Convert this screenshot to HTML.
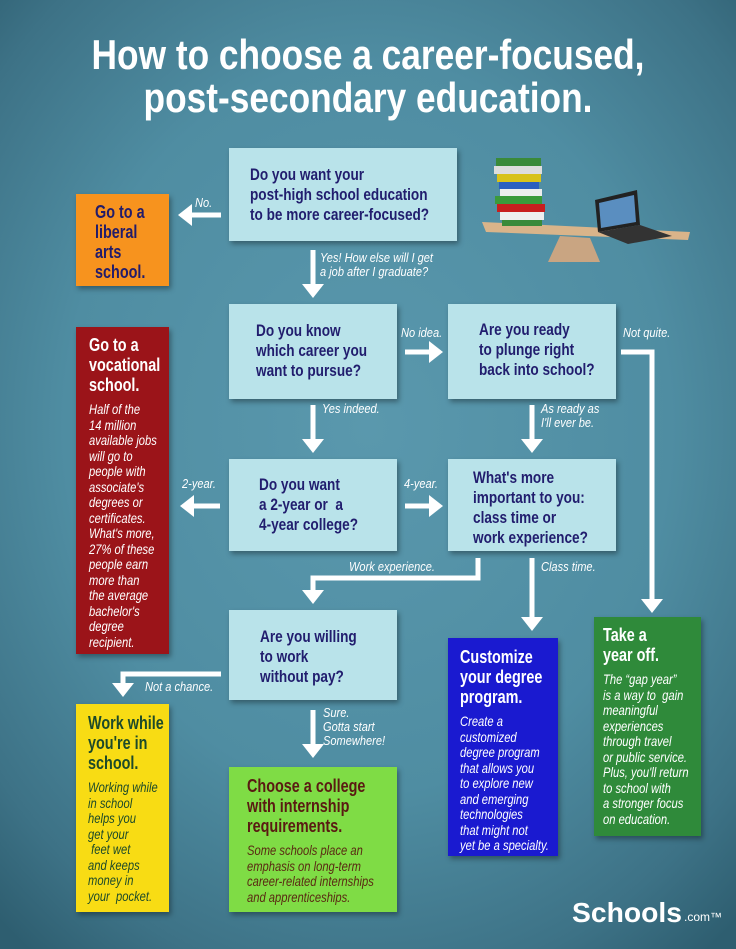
<!DOCTYPE html>
<html><head><meta charset="utf-8"><style>
*{margin:0;padding:0;box-sizing:border-box}
body{width:736px;height:949px;overflow:hidden;position:relative;font-family:"Liberation Sans",sans-serif;
background:radial-gradient(ellipse 75% 70% at 50% 45%,#5a98ad 0%,#4f8da2 55%,#3d7286 85%,#2e5e70 100%);}
.t{position:absolute;left:0;width:736px;text-align:center;color:#fff;font-weight:bold;font-size:42px;line-height:42px;transform:scaleX(.84);white-space:nowrap}
.b{position:absolute;box-shadow:2px 3px 5px rgba(0,0,0,.35)}
.c{transform:scaleX(.8);transform-origin:0 0;white-space:nowrap}
.q{background:#b9e3ea;color:#211d6e;font-weight:bold;font-size:17px;line-height:20px}
.h{font-weight:bold;font-size:18px;line-height:20px}
.s{font-style:italic;font-size:14px;line-height:15.5px}
.l{position:absolute;color:#fff;font-style:italic;font-size:13px;line-height:14px;transform:scaleX(.85);transform-origin:0 0;white-space:nowrap}
svg{position:absolute;left:0;top:0}
</style></head><body>
<div class="t" style="top:34px">How to choose a career-focused,</div>
<div class="t" style="top:77px">post-secondary education.</div>

<div class="b q" style="left:229px;top:148px;width:228px;height:93px;padding:17px 0 0 21px"><div class="c">Do you want your<br>post-high school education<br>to be more career-focused?</div></div>
<div class="b" style="left:76px;top:194px;width:93px;height:92px;background:#f7931e;color:#221c6b;padding:8px 0 0 19px"><div class="c h">Go to a<br>liberal<br>arts<br>school.</div></div>

<div class="b q" style="left:229px;top:304px;width:168px;height:95px;padding:17px 0 0 27px"><div class="c">Do you know<br>which career you<br>want to pursue?</div></div>
<div class="b q" style="left:448px;top:304px;width:168px;height:95px;padding:16px 0 0 31px"><div class="c">Are you ready<br>to plunge right<br>back into school?</div></div>

<div class="b" style="left:76px;top:327px;width:93px;height:327px;background:#9b1419;color:#fff;padding:8px 0 0 13px"><div class="c"><div class="h">Go to a<br>vocational<br>school.</div><div class="s" style="margin-top:7px">Half of the<br>14 million<br>available jobs<br>will go to<br>people with<br>associate's<br>degrees or<br>certificates.<br>What's more,<br>27% of these<br>people earn<br>more than<br>the average<br>bachelor's<br>degree<br>recipient.</div></div></div>

<div class="b q" style="left:229px;top:459px;width:168px;height:92px;padding:16px 0 0 30px"><div class="c">Do you want<br>a 2-year or &nbsp;a<br>4-year college?</div></div>
<div class="b q" style="left:448px;top:459px;width:168px;height:92px;padding:9px 0 0 25px"><div class="c">What's more<br>important to you:<br>class time or<br>work experience?</div></div>

<div class="b q" style="left:229px;top:610px;width:168px;height:90px;padding:17px 0 0 31px"><div class="c">Are you willing<br>to work<br>without pay?</div></div>

<div class="b" style="left:448px;top:638px;width:110px;height:218px;background:#1a1ad0;color:#fff;padding:9px 0 0 12px"><div class="c"><div class="h">Customize<br>your degree<br>program.</div><div class="s" style="margin-top:7px">Create a<br>customized<br>degree program<br>that allows you<br>to explore new<br>and emerging<br>technologies<br>that might not<br>yet be a specialty.</div></div></div>

<div class="b" style="left:594px;top:617px;width:107px;height:219px;background:#2f8a3a;color:#fff;padding:8px 0 0 9px"><div class="c"><div class="h">Take a<br>year off.</div><div class="s" style="margin-top:7px">The “gap year”<br>is a way to &nbsp;gain<br>meaningful<br>experiences<br>through travel<br>or public service.<br>Plus, you'll return<br>to school with<br>a stronger focus<br>on education.</div></div></div>

<div class="b" style="left:76px;top:704px;width:93px;height:208px;background:#f8dc14;color:#1d4a2a;padding:9px 0 0 12px"><div class="c"><div class="h">Work while<br>you're in<br>school.</div><div class="s" style="margin-top:7px">Working while<br>in school<br>helps you<br>get your<br>&nbsp;feet wet<br>and keeps<br>money in<br>your &nbsp;pocket.</div></div></div>

<div class="b" style="left:229px;top:767px;width:168px;height:145px;background:#7fdc45;color:#5a1a12;padding:9px 0 0 18px"><div class="c"><div class="h">Choose a college<br>with internship<br>requirements.</div><div class="s" style="margin-top:7px;color:#5a2a12">Some schools place an<br>emphasis on long-term<br>career-related internships<br>and apprenticeships.</div></div></div>

<svg width="736" height="949">
<g fill="none" stroke="#fff" stroke-width="5">
<path d="M221 215H190"/><path d="M313 250V285"/><path d="M405 352H430"/>
<path d="M621 352H652V600"/><path d="M313 405V440"/><path d="M532 405V440"/>
<path d="M220 506H192"/><path d="M405 506H430"/>
<path d="M478 558V578H313V592"/><path d="M532 558V618"/>
<path d="M221 674H123V685"/><path d="M313 710V745"/>
</g>
<g fill="#fff">
<path d="M178 215L192 204V226Z"/><path d="M313 298L302 284H324Z"/><path d="M443 352L429 341V363Z"/>
<path d="M652 613L641 599H663Z"/><path d="M313 453L302 439H324Z"/><path d="M532 453L521 439H543Z"/>
<path d="M180 506L194 495V517Z"/><path d="M443 506L429 495V517Z"/>
<path d="M313 604L302 590H324Z"/><path d="M532 631L521 617H543Z"/>
<path d="M123 697L112 683H134Z"/><path d="M313 758L302 744H324Z"/>
</g>
<path d="M482 222L690 232L688 240L486 232Z" fill="#d9b48a"/>
<path d="M560 236L590 238L600 262L548 262Z" fill="#c9a582"/>
<rect x="496" y="158" width="45" height="8" fill="#3a8a3a"/><rect x="494" y="166" width="48" height="8" fill="#ddd"/>
<rect x="497" y="174" width="44" height="8" fill="#d8c21a"/><rect x="499" y="182" width="40" height="7" fill="#2a5fc0"/>
<rect x="500" y="189" width="42" height="7" fill="#eee"/><rect x="495" y="196" width="47" height="8" fill="#3b9a3b"/>
<rect x="497" y="204" width="48" height="8" fill="#c81e1e"/><rect x="500" y="212" width="44" height="8" fill="#eee"/>
<rect x="502" y="220" width="40" height="6" fill="#3a8a3a"/>
<path d="M595 200L637 190L640 225L598 232Z" fill="#222"/><path d="M599 203L634 195L636 222L601 228Z" fill="#5a8ec0"/>
<path d="M598 232L640 225L672 236L628 244Z" fill="#333"/>
<text x="572" y="922" fill="#fff" font-family="Liberation Sans,sans-serif" font-weight="bold" font-size="28" textLength="110" lengthAdjust="spacingAndGlyphs">Schools</text>
<text x="684" y="921" fill="#fff" font-family="Liberation Sans,sans-serif" font-size="12">.com™</text>
</svg>

<div class="l" style="left:195px;top:196px">No.</div>
<div class="l" style="left:320px;top:251px">Yes! How else will I get<br>a job after I graduate?</div>
<div class="l" style="left:401px;top:326px">No idea.</div>
<div class="l" style="left:623px;top:326px">Not quite.</div>
<div class="l" style="left:322px;top:402px">Yes indeed.</div>
<div class="l" style="left:541px;top:402px">As ready as<br>I'll ever be.</div>
<div class="l" style="left:182px;top:477px">2-year.</div>
<div class="l" style="left:404px;top:477px">4-year.</div>
<div class="l" style="left:349px;top:560px">Work experience.</div>
<div class="l" style="left:541px;top:560px">Class time.</div>
<div class="l" style="left:145px;top:680px">Not a chance.</div>
<div class="l" style="left:323px;top:706px">Sure.<br>Gotta start<br>Somewhere!</div>
</body></html>
